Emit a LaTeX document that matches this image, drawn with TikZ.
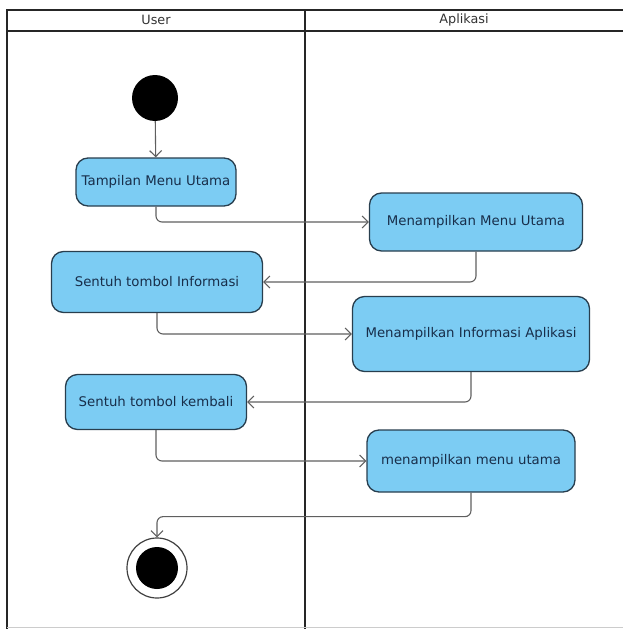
\documentclass[tikz,border=0pt]{standalone}
\usepackage{fontspec}
\setmainfont{DejaVu Sans}
\usetikzlibrary{arrows.meta}
\definecolor{actfill}{RGB}{124,204,243}
\definecolor{actdraw}{RGB}{40,62,78}
\definecolor{acttext}{RGB}{24,46,74}
\definecolor{flow}{RGB}{95,95,95}
\begin{document}
\begin{tikzpicture}[x=1pt,y=-1pt,
  act/.style={draw=actdraw,fill=actfill,line width=1.3pt,rounded corners=12pt,
    font=\fontsize{13.3}{15}\selectfont,text=acttext,inner sep=0pt},
  flowline/.style={draw=flow,line width=1.1pt,rounded corners=6pt,
    -{Straight Barb[length=6pt,width=12pt,line width=1.1pt]}},
  lane/.style={line width=1.8pt,draw=black!85},
  hdr/.style={font=\fontsize{12.8}{14}\selectfont,text=black!80}]
\useasboundingbox (0,0) rectangle (623,629);
% swimlane frame
\draw[lane] (7,629) -- (7,10) -- (623,10);
\draw[lane] (7,31) -- (623,31);
\draw[lane] (305,10) -- (305,629);
\draw[black!20,line width=1pt] (7,627.5) -- (623,627.5);
\node[hdr] (hu) at (156,20) {User};
\node[hdr] (ha) at (464,20) {Aplikasi};
% nodes
\node[circle,fill=black,minimum size=46pt,inner sep=0pt] (start) at (155,98) {};
\node[act,minimum width=160pt,minimum height=48pt] (a1) at (156,182) {Tampilan Menu Utama};
\node[act,minimum width=213pt,minimum height=58pt] (b1) at (476,222) {Menampilkan Menu Utama};
\node[act,minimum width=211pt,minimum height=61pt] (a2) at (157,282) {Sentuh tombol Informasi};
\node[act,minimum width=237pt,minimum height=75pt] (b2) at (471,334) {Menampilkan Informasi Aplikasi};
\node[act,minimum width=181pt,minimum height=55pt] (a3) at (156,402) {Sentuh tombol kembali};
\node[act,minimum width=208pt,minimum height=62pt] (b3) at (471,461) {menampilkan menu utama};
\node[circle,draw=black!75,line width=1.2pt,fill=white,minimum size=60pt,inner sep=0pt] (endo) at (157,568) {};
\node[circle,fill=black,minimum size=42pt,inner sep=0pt] (endi) at (157,568) {};
% flows
\draw[flowline] (start) -- (a1);
\draw[flowline] (a1.south) |- (b1.west);
\draw[flowline] (b1.south) |- (a2.east);
\draw[flowline] (a2.south) |- (b2.west);
\draw[flowline] (b2.south) |- (a3.east);
\draw[flowline] (a3.south) |- (b3.west);
\draw[flowline] (b3.south) -- ++(0,24) -| (endo.north);
\end{tikzpicture}
\end{document}
